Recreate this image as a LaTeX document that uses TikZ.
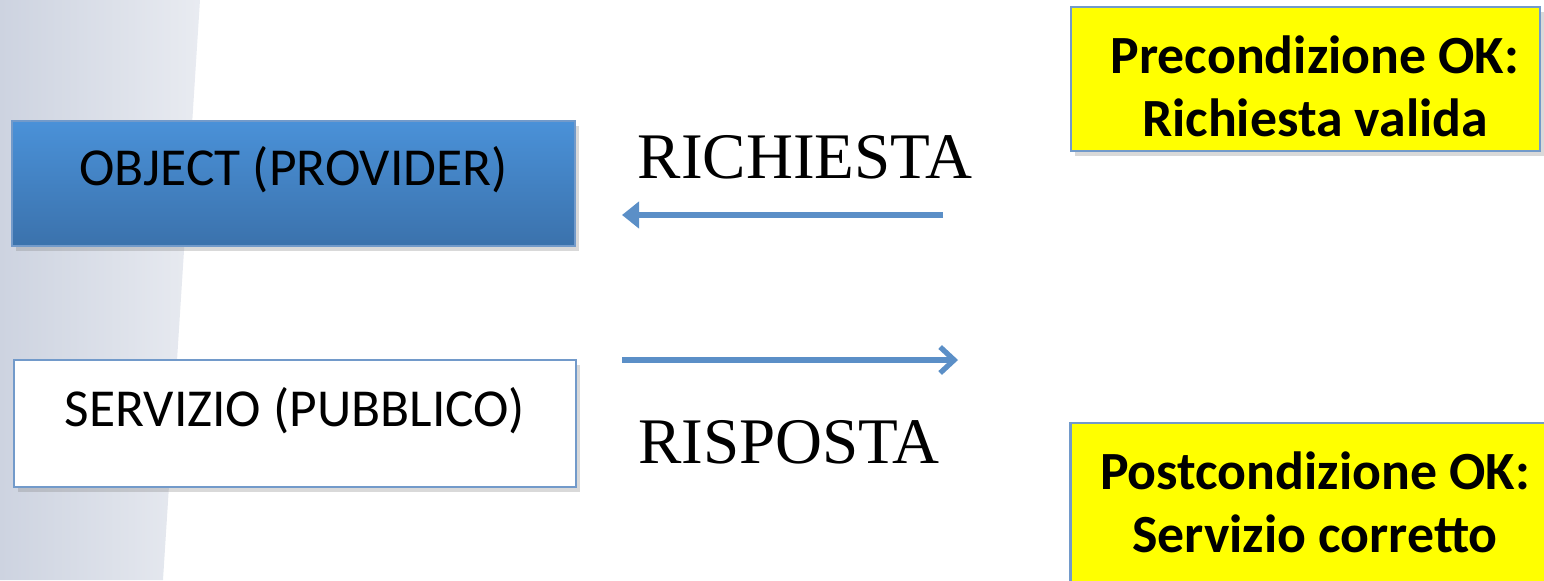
\documentclass[tikz,border=0pt]{standalone}
\usepackage{fontspec}
\setmainfont{Carlito}
\newfontfamily\timesfont{Liberation Serif}
\usetikzlibrary{arrows.meta,shadows}
\definecolor{boxblue}{HTML}{4F81BD}
\definecolor{provtop}{HTML}{4A91D8}
\definecolor{provbottom}{HTML}{3B72AC}
\definecolor{arrowblue}{HTML}{5B8FC7}
\definecolor{slidegray}{HTML}{CDD3E0}
\definecolor{condyellow}{HTML}{FFFF00}
\tikzstyle{box}=[rectangle,draw=boxblue!80,line width=0.6pt,inner sep=0pt,
  drop shadow={opacity=0.3,shadow xshift=0.04cm,shadow yshift=-0.05cm}]
\tikzstyle{boxtext}=[font=\fontsize{15.2}{18}\selectfont]
\tikzstyle{cond}=[box,fill=condyellow]
\tikzstyle{condtext}=[font=\fontsize{15.3}{18}\selectfont\bfseries,align=center]
\tikzstyle{msg}=[font=\timesfont\fontsize{18.5}{22}\selectfont]
\tikzstyle{flow}=[arrowblue,line width=1.5pt]

\begin{document}
\begin{tikzpicture}
  \useasboundingbox (0,0) rectangle (15.44,-5.8);
  % slide background
  \shade[left color=slidegray,right color=slidegray!45] (0,0) -- (2.0,0) -- (1.63,-5.8) -- (0,-5.8) -- cycle;
  % the two boxes on the left
  \node[box,top color=provtop,bottom color=provbottom,
        minimum width=5.63cm,minimum height=1.25cm] (provider) at (2.935,-1.835) {};
  \node[boxtext] (provider-text) at ([yshift=0.14cm]provider.center) {OBJECT (PROVIDER)};
  \node[box,fill=white,minimum width=5.62cm,minimum height=1.27cm] (servizio) at (2.95,-4.235) {};
  \node[boxtext] (servizio-text) at ([yshift=0.13cm]servizio.center) {SERVIZIO (PUBBLICO)};
  % messages
  \node[msg] (richiesta) at (8.05,-1.57) {RICHIESTA};
  \node[msg] (risposta) at (7.89,-4.42) {RISPOSTA};
  \coordinate (req-from) at (9.43,-2.15);
  \coordinate (req-to) at (6.22,-2.15);
  \coordinate (resp-from) at (6.22,-3.6);
  \coordinate (resp-to) at (9.58,-3.6);
  \draw[flow,-{Triangle[length=0.17cm,width=0.26cm]}] (req-from) -- (req-to);
  \draw[flow,-{Straight Barb[length=0.14cm,width=0.26cm]}] (resp-from) -- (resp-to);
  % conditions
  \node[cond,minimum width=4.69cm,minimum height=1.44cm] (pre) at (13.055,-0.79) {};
  \node[condtext] (pre-text) at (13.15,-0.86) {Precondizione OK:\\Richiesta valida};
  \node[cond,minimum width=4.79cm,minimum height=1.77cm] (post) at (13.1,-5.115) {};
  \node[condtext] (post-text) at (13.15,-5.02) {Postcondizione OK:\\Servizio corretto};
\end{tikzpicture}
\end{document}
